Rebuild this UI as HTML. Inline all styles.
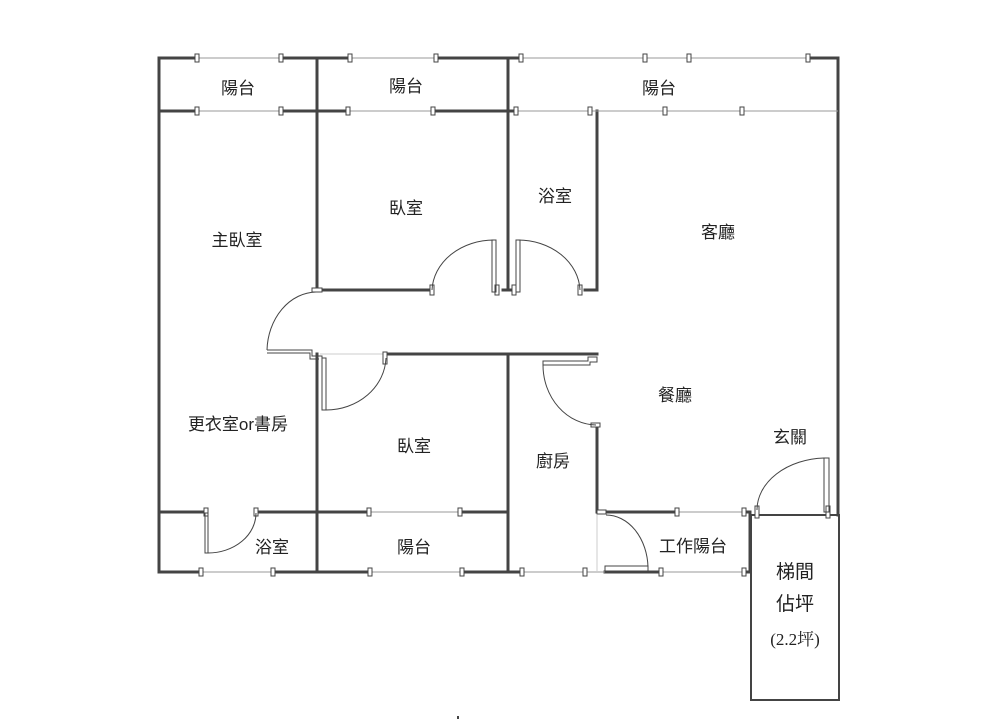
<!DOCTYPE html>
<html><head><meta charset="utf-8"><style>
html,body{margin:0;padding:0;background:#fff;}
svg{display:block;}
text{font-family:"Liberation Sans","Noto Sans CJK TC",sans-serif;font-size:17px;fill:#222;text-anchor:middle;}
</style></head><body>
<svg width="1000" height="721" viewBox="0 0 1000 721" xmlns="http://www.w3.org/2000/svg">
<g stroke="#444" stroke-width="3" fill="none" stroke-linecap="square">
<!-- outer walls -->
<line x1="159" y1="58" x2="159" y2="572"/>
<line x1="838" y1="58" x2="838" y2="515"/>
<!-- top wall segments -->
<line x1="159" y1="58" x2="197" y2="58"/><line x1="281" y1="58" x2="350" y2="58"/>
<line x1="437" y1="58" x2="521" y2="58"/><line x1="808" y1="58" x2="838" y2="58"/>
<!-- y=111 -->
<line x1="159" y1="111" x2="197" y2="111"/><line x1="281" y1="111" x2="348" y2="111"/>
<line x1="433" y1="111" x2="516" y2="111"/>
<!-- verticals -->
<line x1="317" y1="58" x2="317" y2="290"/>
<line x1="508" y1="58" x2="508" y2="290"/>
<line x1="597" y1="111" x2="597" y2="290"/>
<line x1="317" y1="290" x2="432" y2="290"/>
<line x1="503" y1="290" x2="512" y2="290"/>
<line x1="585" y1="290" x2="597" y2="290"/>
<line x1="385" y1="354" x2="597" y2="354"/>
<line x1="317" y1="354" x2="317" y2="572"/>
<line x1="508" y1="354" x2="508" y2="572"/>
<line x1="597" y1="427" x2="597" y2="512"/>
<!-- y=512 -->
<line x1="159" y1="512" x2="205" y2="512"/><line x1="256" y1="512" x2="369" y2="512"/>
<line x1="460" y1="512" x2="508" y2="512"/>
<line x1="600" y1="512" x2="677" y2="512"/><line x1="744" y1="512" x2="750" y2="512"/>
<!-- bottom y=572 -->
<line x1="159" y1="572" x2="201" y2="572"/><line x1="273" y1="572" x2="370" y2="572"/>
<line x1="462" y1="572" x2="522" y2="572"/><line x1="605" y1="572" x2="661" y2="572"/>
<line x1="744" y1="572" x2="750" y2="572"/>
<line x1="750" y1="512" x2="750" y2="572"/>
</g>
<!-- stair box -->
<rect x="751" y="515" width="88" height="185" fill="none" stroke="#444" stroke-width="2"/>
<!-- windows thin lines -->
<g stroke="#999" stroke-width="1">
<line x1="197" y1="58" x2="281" y2="58"/><line x1="350" y1="58" x2="437" y2="58"/>
<line x1="521" y1="58" x2="808" y2="58"/>
<line x1="197" y1="111" x2="281" y2="111"/><line x1="348" y1="111" x2="433" y2="111"/>
<line x1="516" y1="111" x2="838" y2="111"/>
<line x1="369" y1="512" x2="460" y2="512"/><line x1="677" y1="512" x2="744" y2="512"/>
<line x1="201" y1="572" x2="273" y2="572"/><line x1="370" y1="572" x2="462" y2="572"/>
<line x1="522" y1="572" x2="605" y2="572"/><line x1="661" y1="572" x2="744" y2="572"/>
<line x1="597" y1="515" x2="597" y2="572" stroke="#ccc"/>
<line x1="320" y1="354" x2="385" y2="354" stroke="#ccc"/>
</g>
<g fill="#fff" stroke="#444" stroke-width="1">
<rect x="195" y="54" width="4" height="8"/><rect x="279" y="54" width="4" height="8"/>
<rect x="348" y="54" width="4" height="8"/><rect x="434" y="54" width="4" height="8"/>
<rect x="519" y="54" width="4" height="8"/><rect x="643" y="54" width="4" height="8"/>
<rect x="687" y="54" width="4" height="8"/><rect x="806" y="54" width="4" height="8"/>
<rect x="195" y="107" width="4" height="8"/><rect x="279" y="107" width="4" height="8"/>
<rect x="346" y="107" width="4" height="8"/><rect x="431" y="107" width="4" height="8"/>
<rect x="514" y="107" width="4" height="8"/><rect x="588" y="107" width="4" height="8"/>
<rect x="663" y="107" width="4" height="8"/><rect x="740" y="107" width="4" height="8"/>
<rect x="367" y="508" width="4" height="8"/><rect x="458" y="508" width="4" height="8"/>
<rect x="675" y="508" width="4" height="8"/><rect x="742" y="508" width="4" height="8"/>
<rect x="199" y="568" width="4" height="8"/><rect x="271" y="568" width="4" height="8"/>
<rect x="368" y="568" width="4" height="8"/><rect x="460" y="568" width="4" height="8"/>
<rect x="520" y="568" width="4" height="8"/><rect x="583" y="568" width="4" height="8"/>
<rect x="659" y="568" width="4" height="8"/><rect x="742" y="568" width="4" height="8"/>
<!-- door jambs -->
<rect x="430" y="285" width="4" height="10"/><rect x="495" y="285" width="4" height="10"/>
<rect x="512" y="285" width="4" height="10"/><rect x="578" y="285" width="4" height="10"/>
<rect x="312" y="288" width="10" height="4"/>
<rect x="591" y="423" width="9" height="4"/>
<rect x="204" y="508" width="4" height="8"/><rect x="254" y="508" width="4" height="8"/>
<rect x="755" y="506" width="4" height="12"/><rect x="826" y="506" width="4" height="12"/>
<rect x="597" y="510" width="9" height="4"/>
<rect x="383" y="352" width="4" height="12"/>
</g>
<!-- door leaves & arcs -->
<g fill="none" stroke="#444" stroke-width="1">
<rect x="492" y="240" width="4" height="52"/>
<path d="M432 290 A62 52 0 0 1 494 240"/>
<rect x="516" y="240" width="4" height="52"/>
<path d="M580 290 A62 52 0 0 0 518 240"/>
<path d="M267 350 L312 350 L312 356 L322 356 L322 362"/>
<path d="M267 353 L310 353 L310 359 L319 359"/>
<path d="M316 292 A50 60 0 0 0 267 350"/>
<rect x="322" y="358" width="4" height="52"/>
<path d="M326 410 A60 54 0 0 0 386 358"/>
<path d="M543 361 L588 361 L588 357 L597 357 L597 362 L590 362 L590 365 L543 365 Z"/>
<path d="M543 365 A54 60 0 0 0 596 425"/>
<rect x="205" y="513" width="3" height="40"/>
<path d="M208 553 A48 40 0 0 0 256 513"/>
<rect x="824" y="458" width="5" height="54"/>
<path d="M757 510 A70 52 0 0 1 824 458"/>
<rect x="605" y="566" width="43" height="5"/>
<path d="M606 515 A42 54 0 0 1 648 567"/>
</g>
<!-- labels -->
<text x="238" y="94">陽台</text>
<text x="406" y="92">陽台</text>
<text x="659" y="94">陽台</text>
<text x="406" y="214">臥室</text>
<text x="555" y="202">浴室</text>
<text x="237" y="246">主臥室</text>
<text x="718" y="238">客廳</text>
<text x="675" y="401">餐廳</text>
<text x="238" y="430">更衣室or書房</text>
<text x="414" y="452">臥室</text>
<text x="553" y="467">廚房</text>
<text x="790" y="443">玄關</text>
<text x="272" y="553">浴室</text>
<text x="414" y="553">陽台</text>
<text x="693" y="552">工作陽台</text>
<text x="795" y="578" style="font-size:19px">梯間</text>
<text x="795" y="610" style="font-size:19px">佔坪</text>
<text x="795" y="645" style="font-family:'Liberation Serif','Noto Serif CJK SC',serif;font-size:17px">(2.2坪)</text>
<rect x="457" y="716" width="2" height="3" fill="#444"/>
</svg>
</body></html>
